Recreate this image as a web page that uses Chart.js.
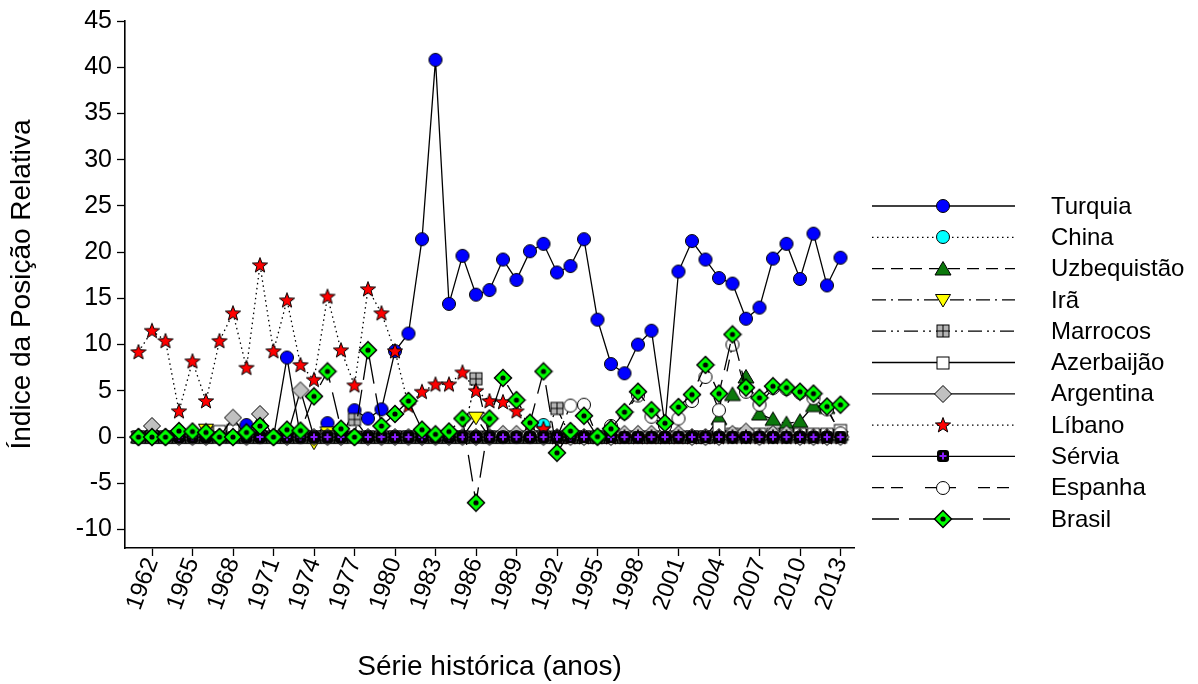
<!DOCTYPE html>
<html lang="pt">
<head>
<meta charset="UTF-8">
<title>Índice da Posição Relativa</title>
<script src="https://cdn.jsdelivr.net/npm/chart.js@4"></script>
<style>
  html, body { margin: 0; padding: 0; background: #fff; }
  #wrap { width: 1198px; height: 684px; position: relative; }
</style>
</head>
<body>
<div id="wrap"><canvas id="chart"></canvas></div>
<script>
// anos da série
const years = [1961, 1962, 1963, 1964, 1965, 1966, 1967, 1968, 1969, 1970,
               1971, 1972, 1973, 1974, 1975, 1976, 1977, 1978, 1979, 1980,
               1981, 1982, 1983, 1984, 1985, 1986, 1987, 1988, 1989, 1990,
               1991, 1992, 1993, 1994, 1995, 1996, 1997, 1998, 1999, 2000,
               2001, 2002, 2003, 2004, 2005, 2006, 2007, 2008, 2009, 2010,
               2011, 2012, 2013];
const tickYears = [1962, 1965, 1968, 1971, 1974, 1977, 1980, 1983, 1986, 1989,
                   1992, 1995, 1998, 2001, 2004, 2007, 2010, 2013];
const yTicks = [-10, -5, 0, 5, 10, 15, 20, 25, 30, 35, 40, 45];

const turquia = [0, 0, 0, 0, 0, 0, 0, 0, 1.3, 0,
                 0, 8.6, 0, 0, 1.5, 0, 2.9, 2.0, 3.0, 9.3,
                 11.2, 21.4, 40.8, 14.4, 19.6, 15.4, 15.9, 19.2, 17.0, 20.1,
                 20.9, 17.8, 18.5, 21.4, 12.7, 7.9, 6.9, 10.0, 11.5, 1.3,
                 17.9, 21.2, 19.2, 17.2, 16.6, 12.8, 14.0, 19.3, 20.9, 17.1,
                 22.0, 16.4, 19.4];
const china = [0, 0, 0, 0, 0, 0, 0, 0, 0, 0,
               0, 0, 0, 0, 0, 0, 0, 0, 0, 0,
               0, 0, 0, 0, 0, 0, 0, 0, 0, 0,
               1.3, 0, 0, 0, 0, 0, 0, 0, 0, 0,
               0, 0, 0, 0, 0, 0, 0, 0, 0, 0,
               0, 0, 0];
const uzbequistao = [0, 0, 0, 0, 0, 0, 0, 0, 0, 0,
                     0, 0, 0, 0, 0, 0, 0, 0, 0, 0,
                     0, 0, 0, 0, 0, 0, 0, 0, 0, 0,
                     0, 0, 0, 0, 0, 0, 0, 0, 0, 0,
                     0, 0, 0, 2.0, 4.6, 6.5, 2.5, 1.9, 1.45, 1.7,
                     3.4, 3.2, 0.3];
const ira = [0, 0, 0, 0, 0, 0.8, 0.5, 0, 0, 0,
             0, 0, 0, -0.6, 0.5, 0, 0, 0, 0, 0,
             0, 0, 0, 0, 0, 2.1, 0, 0, 0, 0,
             0, 0, 0, 0, 0, 0, 0, 0, 0, 0,
             0, 0, 0, 0, 0, 0, 0, 0, 0, 0.2,
             0.2, 0.2, 0];
const marrocos = [0, 0, 0, 0, 0, 0, 0, 0, 0, 0,
                  0, 0, 0, 0, 0, 0, 1.9, 0, 0, 0,
                  0, 0, 0, 0, 0, 6.3, 0, 0, 0, 0,
                  0, 3.1, 0, 0, 0, 0, 0, 0, 0, 0,
                  0, 0, 0, 0, 0, 0, 0, 0, 0, 0,
                  0, 0, 0];
const azerbaijao = [0, 0, 0, 0, 0, 0, 0.6, 0.7, 0, 0,
                    0, 0, 0, 0, 0, 0, 0, 0, 0, 0,
                    0, 0, 0, 0, 0, 0, 0, 0, 0, 0,
                    0, 0, 0, 0, 0, 0, 0, 0, 0, 0,
                    0, 0, 0, 1.0, 0.3, 0.3, 0.3, 0.3, 0.3, 0.3,
                    0.3, 0.3, 0.7];
const argentina = [0, 1.2, 0, 0, 0, 0, 0, 2.1, 0, 2.5,
                   0, 0, 5.05, 0, 0, 0, 0, 0, 0, 0,
                   0, 0, 0, 0, 0, 0, 0, 0.35, 0.35, 0.35,
                   0, 0, 0, 0, 0, 0, 0.35, 0.35, 0.35, 0.35,
                   0.35, 0, 0, 0, 0.35, 0.6, 0, 0.35, 0.35, 0,
                   0, 0, 0];
const libano = [9.2, 11.5, 10.4, 2.8, 8.2, 3.9, 10.4, 13.4, 7.5, 18.6,
                9.3, 14.8, 7.8, 6.2, 15.2, 9.4, 5.6, 16.0, 13.4, 9.3,
                3.4, 4.9, 5.7, 5.7, 7.0, 5.0, 3.9, 3.8, 2.8, 1.5,
                0.9, 0, 0, 0, 0, 0, 0, 0, 0, 0,
                0, 0, 0, 0, 0, 0, 0, 0, 0, 0,
                0, 0, 0];
const servia = [0, 0, 0, 0, 0, 0, 0, 0, 0, 0,
                0, 0, 0, 0, 0, 0, 0, 0, 0, 0,
                0, 0, 0, 0, 0, 0, 0, 0, 0, 0,
                0, 0, 0, 0, 0, 0, 0, 0, 0, 0,
                0, 0, 0, 0, 0, 0, 0, 0, 0, 0,
                0, 0, 0];
const espanha = [0, 0, 0, 0, 0, 0, 0, 0, 0, 0,
                 0, 0, 0, 0, 0, 0, 0, 0, 0, 0,
                 0, 0, 0, 0, 0, 0, 0, 0, 0, 0,
                 0, 0, 3.4, 3.5, 0, 1.2, 2.6, 4.5, 2.2, 1.2,
                 2.0, 3.9, 6.5, 2.9, 10.0, 4.9, 3.5, 5.3, 5.2, 4.8,
                 4.2, 3.0, 0.4];
const brasil = [0, 0, 0, 0.65, 0.6, 0.5, 0, 0, 0.5, 1.2,
                0, 0.8, 0.7, 4.4, 7.1, 0.9, 0, 9.4, 1.2, 2.5,
                3.9, 0.8, 0.3, 0.6, 2.0, -7.1, 2.0, 6.4, 4.0, 1.55,
                7.1, -1.7, 0.65, 2.3, 0.05, 0.9, 2.7, 4.9, 2.9, 1.5,
                3.25, 4.6, 7.8, 4.7, 11.1, 5.35, 4.25, 5.5, 5.35, 4.9,
                4.7, 3.3, 3.5];

// marcadores desenhados em canvas pequenos
function marker(w, h, draw) {
    const c = document.createElement('canvas');
    c.width = w; c.height = h;
    const g = c.getContext('2d');
    g.translate(w / 2, h / 2);
    g.lineWidth = 1;
    g.strokeStyle = '#000';
    draw(g);
    return c;
}
function circle(fill) {
    return marker(16, 16, g => {
        g.beginPath(); g.arc(0, 0, 6.5, 0, Math.PI * 2);
        g.fillStyle = fill; g.fill(); g.stroke();
    });
}
function square(fill, grid) {
    return marker(16, 16, g => {
        g.fillStyle = fill;
        g.fillRect(-6, -6, 12, 12); g.strokeRect(-6, -6, 12, 12);
        if (grid) {
            g.beginPath(); g.moveTo(0, -6); g.lineTo(0, 6); g.moveTo(-6, 0); g.lineTo(6, 0); g.stroke();
        }
    });
}
function diamond(fill, dot) {
    return marker(20, 20, g => {
        g.beginPath(); g.moveTo(0, -8.5); g.lineTo(8.5, 0); g.lineTo(0, 8.5); g.lineTo(-8.5, 0); g.closePath();
        g.fillStyle = fill; g.fill();
        g.lineWidth = dot ? 1.5 : 1; g.stroke();
        if (dot) { g.beginPath(); g.arc(0, 0, 2.6, 0, Math.PI * 2); g.fillStyle = '#000'; g.fill(); }
    });
}
const mkTurquia = circle('#0000ff');
const mkChina = circle('#00ffff');
const mkUzbek = marker(18, 18, g => {
    g.beginPath(); g.moveTo(0, -7.5); g.lineTo(8, 6); g.lineTo(-8, 6); g.closePath();
    g.fillStyle = '#0b780b'; g.fill(); g.stroke();
});
const mkIra = marker(18, 18, g => {
    g.beginPath(); g.moveTo(-7.5, -5.5); g.lineTo(7.5, -5.5); g.lineTo(0, 7); g.closePath();
    g.fillStyle = '#ffff00'; g.fill(); g.stroke();
});
const mkMarrocos = square('#b4b4b4', true);
const mkAzerb = square('#ffffff', false);
const mkArgentina = diamond('#c0c0c0', false);
const mkLibano = marker(18, 18, g => {
    g.beginPath();
    for (let k = 0; k < 10; k++) {
        const r = k % 2 ? 3.3 : 8;
        const a = -Math.PI / 2 + k * Math.PI / 5;
        g.lineTo(r * Math.cos(a), r * Math.sin(a) + 0.5);
    }
    g.closePath(); g.fillStyle = '#ff0000'; g.fill(); g.stroke();
});
const mkServia = marker(16, 16, g => {
    g.beginPath();
    g.roundRect ? g.roundRect(-6, -6, 12, 12, 3) : g.rect(-6, -6, 12, 12);
    g.fillStyle = '#000'; g.fill();
    g.fillStyle = '#8a1cff';
    g.fillRect(-1, -3.5, 2, 7); g.fillRect(-3.5, -1, 7, 2);
});
const mkEspanha = circle('#ffffff');
const mkBrasil = diamond('#00ff00', true);

// z: ordem de desenho (menor = por cima)
const series = [
    { label: 'Turquia', values: turquia, dash: [], mk: mkTurquia, z: 10 },
    { label: 'China', values: china, dash: [1.5, 3.5], mk: mkChina, z: 9 },
    { label: 'Uzbequistão', values: uzbequistao, dash: [12, 7], mk: mkUzbek, z: 8 },
    { label: 'Irã', values: ira, dash: [14, 5, 2, 5], mk: mkIra, z: 7 },
    { label: 'Marrocos', values: marrocos, dash: [14, 5, 2, 4, 2, 5], mk: mkMarrocos, z: 6 },
    { label: 'Azerbaijão', values: azerbaijao, dash: [], mk: mkAzerb, z: 5 },
    { label: 'Argentina', values: argentina, dash: [], mk: mkArgentina, z: 4 },
    { label: 'Líbano', values: libano, dash: [1.5, 3.5], mk: mkLibano, z: 3 },
    { label: 'Sérvia', values: servia, dash: [], mk: mkServia, z: 1 },
    { label: 'Espanha', values: espanha, dash: [12, 7, 12, 22], mk: mkEspanha, z: 2 },
    { label: 'Brasil', values: brasil, dash: [27, 10], mk: mkBrasil, z: 0 }
];

const FONT = "'Liberation Sans', Arial, sans-serif";
Chart.defaults.font.family = FONT;
Chart.defaults.color = '#000';

// legenda lateral (linha + marcador + nome)
const sideLegend = {
    id: 'sideLegend',
    afterDraw(chart) {
        const g = chart.ctx;
        g.save();
        series.forEach((s, i) => {
            const y = 206 + i * 31.3;
            g.beginPath();
            g.setLineDash(s.dash);
            g.lineWidth = 1.3;
            g.strokeStyle = '#000';
            g.moveTo(872, y); g.lineTo(1015, y);
            g.stroke();
            g.setLineDash([]);
            g.drawImage(s.mk, Math.round(943 - s.mk.width / 2), Math.round(y - s.mk.height / 2));
            g.fillStyle = '#000';
            g.font = '24px ' + FONT;
            g.textBaseline = 'middle';
            g.fillText(s.label, 1051, y + 1);
        });
        g.restore();
    }
};

new Chart(document.getElementById('chart'), {
    type: 'line',
    data: {
        datasets: series.map(s => ({
            label: s.label,
            data: years.map((yr, k) => ({ x: yr, y: s.values[k] })),
            borderColor: '#000',
            borderWidth: 1.3,
            borderDash: s.dash,
            pointStyle: s.mk,
            pointRadius: 7,
            pointHoverRadius: 7,
            tension: 0,
            fill: false,
            order: s.z
        }))
    },
    options: {
        responsive: true,
        maintainAspectRatio: false,
        animation: false,
        events: [],
        layout: { padding: { left: 0, top: 21, right: 344, bottom: 0 } },
        plugins: { legend: { display: false }, tooltip: { enabled: false } },
        scales: {
            x: {
                type: 'linear', min: 1960, max: 2014,
                afterBuildTicks: s => { s.ticks = tickYears.map(v => ({ value: v })); },
                afterFit: s => { s.height = 136; },
                grid: { drawOnChartArea: false, drawTicks: true, tickLength: 8, tickColor: '#000', tickWidth: 1.3 },
                border: { display: true, color: '#000', width: 1.6 },
                ticks: { autoSkip: false, minRotation: 70, maxRotation: 70, padding: -2,
                         font: { size: 24 }, callback: v => String(v) },
                title: { display: true, text: 'Série histórica (anos)', font: { size: 28 },
                         padding: { top: 0, bottom: 0 } }
            },
            y: {
                min: -12, max: 45,
                afterBuildTicks: s => { s.ticks = yTicks.map(v => ({ value: v })); },
                afterFit: s => { s.width = 125; },
                grid: { drawOnChartArea: false, drawTicks: true, tickLength: 8, tickColor: '#000', tickWidth: 1.3 },
                border: { display: true, color: '#000', width: 1.6 },
                ticks: { padding: 5, font: { size: 25 }, callback: v => String(v) },
                title: { display: true, text: 'Índice da Posição Relativa', font: { size: 28 },
                         padding: { top: 5, bottom: 0 } }
            }
        }
    },
    plugins: [sideLegend]
});
</script>
</body>
</html>
